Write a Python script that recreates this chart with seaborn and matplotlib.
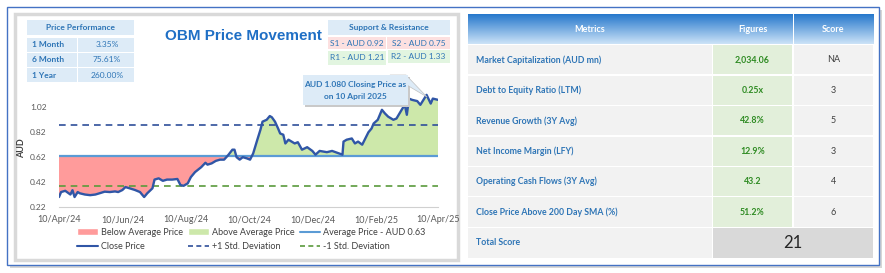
import numpy as np
import pandas as pd
import seaborn as sns
import matplotlib.pyplot as plt
import matplotlib.dates as mdates
from matplotlib.patches import Rectangle, Patch, Polygon
from matplotlib.lines import Line2D

# %% Data
start_date = "2024-04-10"
day_offsets = [0, 2, 6, 11, 13, 15, 18, 20, 25, 30, 35, 39, 44, 49, 54, 57, 61, 64, 68, 73,
               78, 82, 85, 90, 92, 96, 100, 104, 109, 114, 117, 120, 124, 127, 131, 134, 137,
               141, 143, 147, 151, 155, 159, 163, 167, 169, 171, 174, 177, 181, 184, 187, 191,
               194, 196, 200, 203, 205, 208, 211, 213, 216, 218, 221, 224, 227, 230, 234, 239,
               244, 247, 251, 258, 263, 268, 273, 274, 277, 282, 285, 288, 292, 295, 298, 301,
               303, 307, 311, 314, 317, 322, 325, 330, 333, 335, 337, 340, 345, 348, 351, 354,
               358, 360, 365]
close_prices = [0.30, 0.34, 0.35, 0.32, 0.355, 0.30, 0.34, 0.33, 0.32, 0.315, 0.32, 0.33, 0.343,
                0.34, 0.345, 0.34, 0.356, 0.38, 0.37, 0.357, 0.34, 0.30, 0.33, 0.37, 0.44, 0.45,
                0.43, 0.44, 0.44, 0.445, 0.396, 0.39, 0.41, 0.46, 0.50, 0.52, 0.54, 0.575, 0.56,
                0.57, 0.59, 0.60, 0.60, 0.637, 0.68, 0.68, 0.62, 0.60, 0.62, 0.61, 0.60, 0.65,
                0.76, 0.84, 0.905, 0.92, 0.95, 0.94, 0.905, 0.85, 0.81, 0.80, 0.73, 0.76, 0.745,
                0.73, 0.74, 0.68, 0.70, 0.67, 0.64, 0.67, 0.66, 0.67, 0.655, 0.64, 0.745, 0.76,
                0.77, 0.73, 0.745, 0.72, 0.77, 0.82, 0.85, 0.89, 0.92, 1.00, 0.97, 0.945, 0.92,
                0.93, 1.00, 1.04, 0.96, 1.09, 1.08, 1.07, 1.04, 1.08, 1.12, 1.05, 1.09, 1.08]
avg_price = 0.63
std_dev = 0.245
tick_dates = ["2024-04-10", "2024-06-10", "2024-08-10", "2024-10-10",
              "2024-12-10", "2025-02-10", "2025-04-10"]
y_ticks = [0.22, 0.42, 0.62, 0.82, 1.02]

perf_labels = ["1 Month", "6 Month", "1 Year"]
perf_values = ["3.35%", "75.61%", "260.00%"]
support_levels = ["S1 - AUD 0.92", "S2 - AUD 0.75"]
resistance_levels = ["R1 - AUD 1.21", "R2 - AUD 1.33"]

metric_names = ["Market Capitalization (AUD mn)", "Debt to Equity Ratio (LTM)",
                "Revenue Growth (3Y Avg)", "Net Income Margin (LFY)",
                "Operating Cash Flows (3Y Avg)", "Close Price Above 200 Day SMA (%)"]
metric_figures = ["2,034.06", "0.25x", "42.8%", "12.9%", "43.2", "51.2%"]
metric_scores = ["NA", "3", "5", "3", "4", "6"]
total_score = "21"

# %% Style
sns.set_style("white")
plt.rcParams["font.family"] = ["Lato", "DejaVu Sans"]

blue_txt = "#2E75B6"
close_col = "#3056A6"
avg_col = "#5B9BD5"
red_fill = "#FF9B9B"
green_fill = "#CDE8AA"
plus_col = "#2F4F9A"
minus_col = "#5A9A3C"

W, H = 885, 273
fig = plt.figure(figsize=(W / 100, H / 100), dpi=100)

bg = fig.add_axes([0, 0, 1, 1], zorder=0)
bg.set_xlim(0, W)
bg.set_ylim(H, 0)
bg.axis("off")

fg = fig.add_axes([0, 0, 1, 1], zorder=3)
fg.set_xlim(0, W)
fg.set_ylim(H, 0)
fg.axis("off")
fg.patch.set_alpha(0)

def box(a, x0, y0, x1, y1, color, **kw):
    a.add_patch(Rectangle((x0, y0), x1 - x0, y1 - y0, facecolor=color, edgecolor="none", **kw))

# outer frame with shadow
box(bg, 10, 10, 882, 268, "#D6D6D6")
bg.add_patch(Rectangle((7, 7), 872, 258, facecolor="white", edgecolor="#4472C4", lw=1.0))
# left panel grey frame
bg.add_patch(Rectangle((15, 14), 443, 246, facecolor="white", edgecolor="#D9D9D9", lw=2.5))

# %% Price chart
dates = pd.to_datetime(start_date) + pd.to_timedelta(day_offsets, unit="D")
xnum = mdates.date2num(dates)
prices = np.array(close_prices)

y0_px, px_per_unit = 207, 124.6
ymax = 1.16
ax = fig.add_axes([59 / W, (H - y0_px) / H, 379 / W, (ymax - 0.22) * px_per_unit / H], zorder=2)
ax.patch.set_alpha(0)

ax.fill_between(xnum, prices, avg_price, where=prices < avg_price, interpolate=True,
                color=red_fill, lw=0)
ax.fill_between(xnum, prices, avg_price, where=prices >= avg_price, interpolate=True,
                color=green_fill, lw=0)
ax.axhline(avg_price + std_dev, color=plus_col, lw=1.2, ls=(0, (4, 3)))
ax.axhline(avg_price - std_dev, color=minus_col, lw=1.2, ls=(0, (4, 3)))
ax.axhline(avg_price, color=avg_col, lw=1.6)
sns.lineplot(x=xnum, y=prices, ax=ax, color=close_col, linewidth=1.7)

tick_num = mdates.date2num(pd.to_datetime(tick_dates))
ax.set_xlim(tick_num[0], tick_num[-1])
ax.set_ylim(0.22, ymax)
ax.set_xticks(tick_num)
ax.xaxis.set_major_formatter(mdates.DateFormatter("%d/%b/%y"))
ax.set_yticks(y_ticks)
ax.set_yticklabels([f"{v:.2f}" for v in y_ticks])
ax.tick_params(axis="x", labelsize=6.5, colors="#595959", length=3, width=0.8, pad=3)
ax.tick_params(axis="x", color="#D0D0D0")
ax.tick_params(axis="y", labelsize=6, colors="#595959", length=0, pad=9)
for s in ["top", "right", "left"]:
    ax.spines[s].set_visible(False)
ax.spines["bottom"].set_color("#D0D0D0")
ax.set_ylabel("AUD", fontsize=6.5, fontweight="bold", color="#404040", labelpad=3)
ax.set_xlabel("")

handles = [
    Patch(facecolor=red_fill, label="Below Average Price"),
    Line2D([], [], color=close_col, lw=1.5, label="Close Price"),
    Patch(facecolor=green_fill, label="Above Average Price"),
    Line2D([], [], color=plus_col, lw=1.2, ls=(0, (3, 2)), label="+1 Std. Deviation"),
    Line2D([], [], color=avg_col, lw=1.5, label="Average Price - AUD 0.63"),
    Line2D([], [], color=minus_col, lw=1.2, ls=(0, (3, 2)), label="-1 Std. Deviation"),
]
fig.legend(handles=handles, ncol=3, loc="center left", bbox_to_anchor=(71 / W, 1 - 239.5 / H),
           frameon=False, fontsize=6.5, handlelength=2.3, handletextpad=0.3,
           columnspacing=0.6, labelspacing=0.6, labelcolor="#404040", borderpad=0.2)

# %% Title and small tables on the chart
fg.text(243, 36, "OBM Price Movement", ha="center", va="center", fontsize=11,
        fontweight="bold", color="#1F6FC5", family="Liberation Sans")

box(fg, 27, 20, 134, 35, "#DDEBF7")
fg.text(80.5, 27.5, "Price Performance", ha="center", va="center", fontsize=6,
        fontweight="bold", color=blue_txt)
for i, (lab, val) in enumerate(zip(perf_labels, perf_values)):
    top = 37.7 + i * 15.3
    box(fg, 27, top, 76.7, top + 14, "#DDEBF7")
    box(fg, 78.3, top, 134, top + 14, "#DDEBF7")
    fg.text(32, top + 7, lab, ha="left", va="center", fontsize=6, fontweight="bold", color=blue_txt)
    fg.text(107, top + 7, val, ha="center", va="center", fontsize=6, color=blue_txt)

box(fg, 328, 20, 450, 35, "#DDEBF7")
fg.text(389, 27.5, "Support & Resistance", ha="center", va="center", fontsize=6,
        fontweight="bold", color=blue_txt)
box(fg, 328, 37.3, 386, 48.7, "#FCE0E0")
box(fg, 387.3, 37.3, 450, 48.7, "#FCE0E0")
box(fg, 328, 50.7, 386, 65, "#E2F5E0")
box(fg, 387.5, 49.7, 450, 62.7, "#E2F5E0")
fg.text(357, 43, support_levels[0], ha="center", va="center", fontsize=6, color=blue_txt)
fg.text(418.5, 43, support_levels[1], ha="center", va="center", fontsize=6, color=blue_txt)
fg.text(357, 58, resistance_levels[0], ha="center", va="center", fontsize=6, color=blue_txt)
fg.text(418.5, 56.5, resistance_levels[1], ha="center", va="center", fontsize=6, color=blue_txt)

# callout
box(fg, 305, 77, 410, 107, "#C9C9C9")
fg.add_patch(Polygon([(390, 75), (406, 75), (427, 97)], closed=True, facecolor="#DDEBF7",
                     edgecolor="#C0C0C0", lw=0.5))
box(fg, 303, 75, 408, 105, "#DDEBF7")
fg.text(355.5, 84, "AUD 1.080 Closing Price as", ha="center", va="center", fontsize=6,
        fontweight="bold", color=blue_txt)
fg.text(355.5, 96, "on 10 April 2025", ha="center", va="center", fontsize=6,
        fontweight="bold", color=blue_txt)

# %% Right-hand metrics table
col_x = [(467.5, 711.7), (712.7, 792.3), (793.7, 873.3)]
heads = ["Metrics", "Figures", "Score"]
grad = np.linspace(0, 1, 64)[:, None]
c_top = np.array([0.15, 0.47, 0.80])
c_bot = np.array([0.80, 0.89, 0.97])
grad_img = c_top[None, None, :] * (1 - grad[:, :, None]) + c_bot[None, None, :] * grad[:, :, None]
for (x0, x1), h in zip(col_x, heads):
    fg.imshow(grad_img, extent=(x0, x1, 44.3, 15), aspect="auto", zorder=1)
    fg.text((x0 + x1) / 2 if h != "Metrics" else 590, 30, h, ha="center", va="center",
            fontsize=6.5, fontweight="bold", color="white", zorder=2)

pitch = 30.45
for i, (name, figv, sc) in enumerate(zip(metric_names, metric_figures, metric_scores)):
    top = 45.2 + i * pitch
    bot = top + 29.3
    cy = (top + bot) / 2
    box(fg, col_x[0][0], top, col_x[0][1], bot, "#F2F2F2")
    box(fg, col_x[1][0], top, col_x[1][1], bot, "#E2EFDA")
    box(fg, col_x[2][0], top, col_x[2][1], bot, "#F2F2F2")
    fg.text(476, cy, name, ha="left", va="center", fontsize=6.3, fontweight="bold", color=blue_txt)
    fg.text(sum(col_x[1]) / 2, cy, figv, ha="center", va="center", fontsize=6.3,
            fontweight="bold", color="#2E8B22")
    fg.text(sum(col_x[2]) / 2, cy, sc, ha="center", va="center", fontsize=6.5, color="#404040")

top = 45.2 + 6 * pitch
bot = 257.7
box(fg, col_x[0][0], top, col_x[0][1], bot, "#F2F2F2")
box(fg, col_x[1][0], top, col_x[2][1], bot, "#D9D9D9")
fg.text(476, (top + bot) / 2, "Total Score", ha="left", va="center", fontsize=6.3,
        fontweight="bold", color=blue_txt)
fg.text((col_x[1][0] + col_x[2][1]) / 2, (top + bot) / 2, total_score, ha="center",
        va="center", fontsize=12, color="#262626")

fg.set_xlim(0, W)
fg.set_ylim(H, 0)

plt.savefig("out.png", dpi=100)
